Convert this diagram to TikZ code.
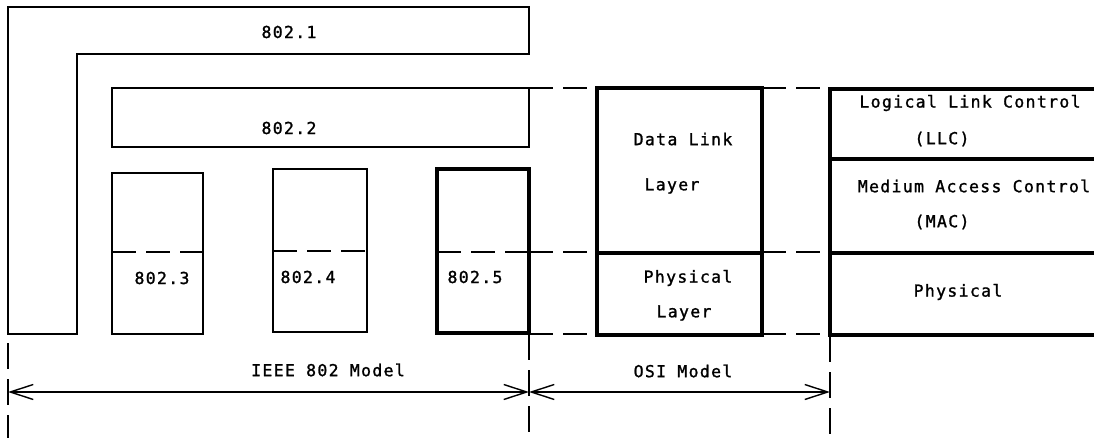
\documentclass[tikz,border=0pt]{standalone}
\usepackage{fontspec}
\newfontfamily\plotfont[LetterSpace=8,FakeBold=1.3]{DejaVu Sans Mono}
\usetikzlibrary{arrows.meta}
\begin{document}
\begin{tikzpicture}[x=1pt,y=-1pt,
  thinline/.style={line width=1.4pt},
  thickline/.style={line width=4pt},
  dashline/.style={line width=1.4pt, dash pattern=on 24pt off 10pt},
  vdash/.style={line width=1.4pt, dash pattern=on 26pt off 10pt},
  lbl/.style={font=\plotfont\fontsize{16.5}{18}\selectfont, inner sep=0pt},
  barb/.tip={Straight Barb[length=23pt,width=15pt]},
  dimline/.style={line width=1.4pt, barb-barb}
]
\useasboundingbox (0,0) rectangle (1094,438);

% 802.1 L shape
\draw[thinline] (8,7) -- (529,7) -- (529,54) -- (77,54) -- (77,334) -- (8,334) -- cycle;
\node[lbl] (t1) at (289,32) {802.1};

% 802.2
\draw[thinline] (112,88) rectangle (529,147);
\node[lbl] (t2) at (289,128) {802.2};

% 802.3, 802.4, 802.5
\draw[thinline] (112,173) rectangle (203,334);
\draw[dashline] (112,252) -- (203,252);
\node[lbl] (t3) at (162,278) {802.3};

\draw[thinline] (273,169) rectangle (367,332);
\draw[dashline] (273,251) -- (367,251);
\node[lbl] (t4) at (308,277) {802.4};

\draw[thickline] (437,169) rectangle (529,333);
\draw[dashline] (437,252) -- (529,252);
\node[lbl] (t5) at (475,277) {802.5};

% OSI boxes
\draw[thickline] (597,88) rectangle (762,253);
\draw[thickline] (597,253) rectangle (762,335);
\node[lbl] (dl1) at (683,139) {Data Link};
\node[lbl] (dl2) at (672,186) {Layer};
\node[lbl] (pl1) at (688,278) {Physical};
\node[lbl] (pl2) at (684,313) {Layer};

% right boxes
\draw[thickline] (1094,89) -- (830,89) -- (830,335) -- (1094,335);
\draw[thickline] (830,159) -- (1094,159);
\draw[thickline] (830,253) -- (1094,253);
\node[lbl] (llc1) at (970,103) {Logical Link Control};
\node[lbl] (llc2) at (942,139) {(LLC)};
\node[lbl] (mac1) at (974,186) {Medium Access Control};
\node[lbl] (mac2) at (942,222) {(MAC)};
\node[lbl] (ph) at (958,292) {Physical};

% horizontal dashed links
\draw[dashline] (529,88) -- (597,88);
\draw[dashline] (762,88) -- (830,88);
\draw[dashline] (529,252) -- (597,252);
\draw[dashline] (762,252) -- (830,252);
\draw[dashline] (529,334) -- (597,334);
\draw[dashline] (762,334) -- (830,334);

% vertical dashed extension lines
\draw[vdash] (8,343) -- (8,438);
\draw[vdash] (529,334) -- (529,438);
\draw[vdash] (830,336) -- (830,438);

% dimension arrows
\coordinate (aL) at (8,392);
\coordinate (aM) at (529,392);
\coordinate (aR) at (830,392);
\draw[dimline] (aL) -- (aM);
\draw[dimline] (aM) -- (aR);
\node[lbl] (ieee) at (328,370) {IEEE 802 Model};
\node[lbl] (osi) at (683,371) {OSI Model};
\end{tikzpicture}
\end{document}
